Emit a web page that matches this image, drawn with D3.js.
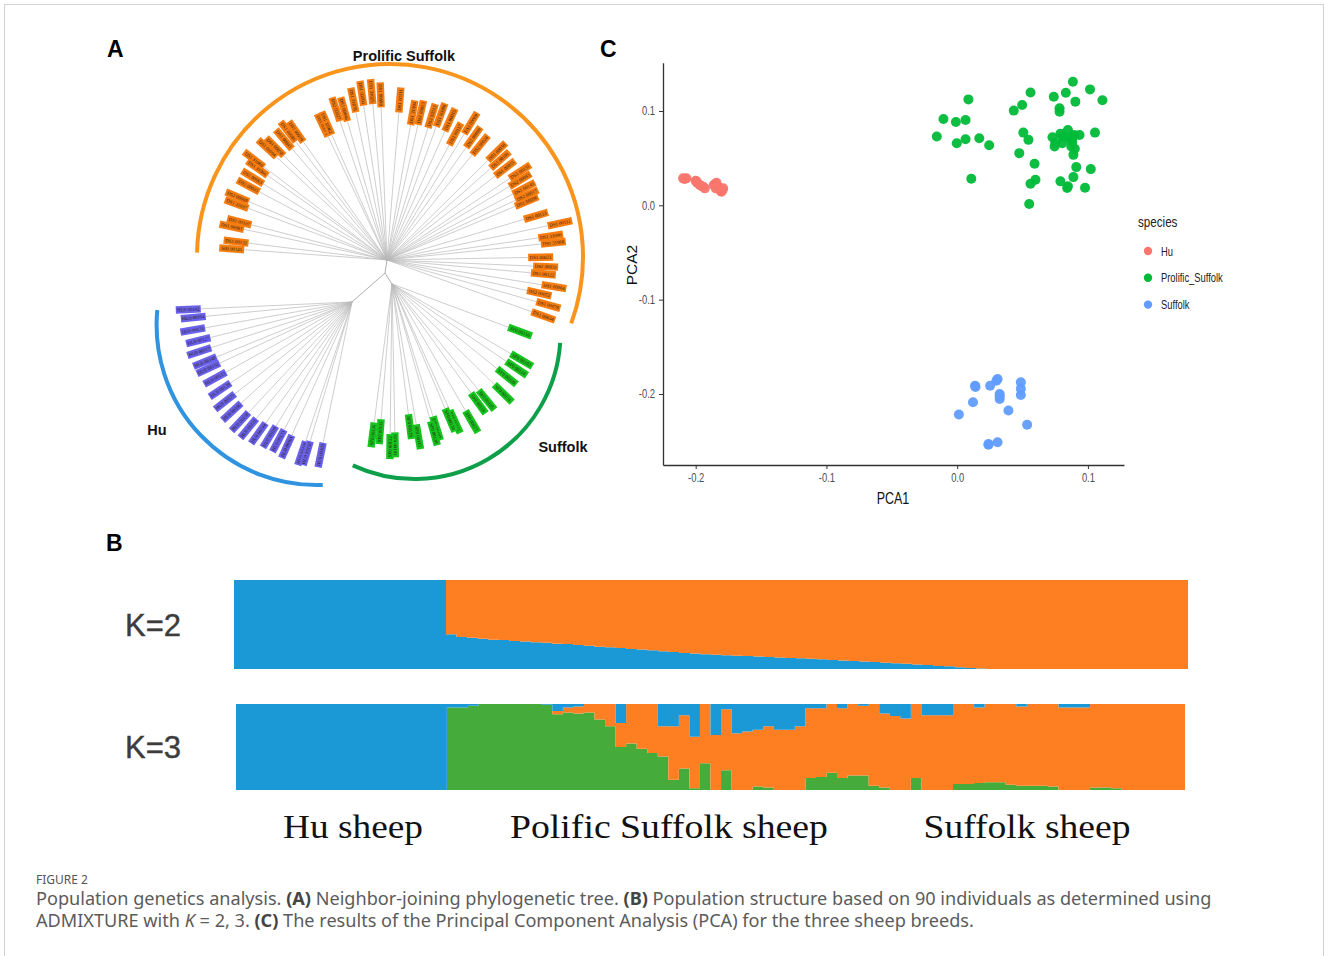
<!DOCTYPE html>
<html>
<head>
<meta charset="utf-8">
<script src="https://cdn.jsdelivr.net/npm/d3@7"></script>
<style>
  body { margin: 0; background: #fff; }
</style>
</head>
<body>
<div id="fig"></div>
<script>
// ---------- panel A : neighbor-joining tree (leaf direction in degrees, distance of label centre from clade node) ----------
const huIds = ["HU0 00142","HU0 00164","HU0 00131","HU0 00127","HU0 00117","HU0 00148","HU0 00152","HU0 00113","HU0 00139","HU0 00125",
  "HU0 00106","HU0 00158","HU0 00121","HU0 00144","HU0 00109","HU0 00133","HU0 00161","HU0 00118","HU0 00150","HU0 00103"];
const huAngles = [177.4,174.4,170,165.9,162,157.9,155.2,150.9,146.3,141.9,137.6,133.1,129.4,125.5,121.5,118,114.3,108.4,106.7,101.6];
const huDists = [163.9,159.5,161.7,158.5,160.6,158.7,158.3,156.8,158.6,161.5,162.8,163.9,163.4,161.3,158.1,157.1,158.7,159.4,157.9,156.2];

const psIds = ["S00 00145","DS1 00132","DS1 00081","DS1 00107","DS1 31037","DS2 00009","DS2 00035","DS1 00063","DS1 31066","DS1 31060",
  "DS1 00094","DS1 00058","DS1 00041","DS1 00086","DS1 00019","DS1 00071","DS1 31062","DS2 00027","DS1 00046","DS1 31078",
  "DS1 00090","DS1 31025","DS1 00098","DS1 00111","DS1 31094","DS1 00053","DS2 00013","DS1 00088","DS1 00015","DS1 00117",
  "DS1 00069","DS1 00080","DS2 00024","DS1 00038","DS1 00101","DS1 00055","DS1 00131","DS2 00043","DS1 00143","DS2 00017",
  "DS1 00096","DS1 00113","DS1 00112","DS1 31090","DS1 31068","DS1 00021","DS2 00033","DS1 00122","DS1 00064","DS2 00052",
  "DS1 00078","DS1 00034"];
const psAngles = [184.1,186.9,192.1,194.5,200.4,202.9,208.1,211.6,215.3,217.1,223,225.3,229.5,232.4,234.7,244.5,246.2,251.3,254.1,258.1,
  261.4,264.8,267.8,274.6,279.9,282.9,287.2,290.3,294.2,298.4,301.5,305.1,309,315.4,318.5,322.2,326.4,329,332.4,335.1,
  337.3,343.5,348,351.7,354.1,359,362.4,365.1,369.1,372.3,375.6,379.7];
const psDists = [155.7,152,158.8,152.6,160.4,162.5,157.2,157.7,158.8,166.8,163.7,159.3,158.7,161.9,157.3,149.5,149.4,159.1,156.7,163.5,
  168.6,169,165.1,160.5,149.5,151.1,150.8,154.6,153.5,143.2,160.3,150,147.9,154.2,150.9,149.4,159.6,155.2,154.6,154.1,
  151.4,155.4,176.8,165.4,167.2,153.7,158.8,157,169.1,155.8,167.5,166];

const sfIds = ["SF0 00116","SF0 00102","SF0 00124","SF0 00109","SF0 00131","SF0 00105","SF0 00118","SF0 00127","SF0 00111",
  "SF0 00134","SF0 00107","SF0 00120","SF0 00113","SF0 00129","SF0 00101","SF0 00122","SF0 00115","SF0 00126"];
const sfAngles = [20.4,30.4,34.1,38.9,44.5,50.8,54.1,59.9,65.4,66.9,72.8,74.3,80.2,82.8,88.9,90.7,94.6,97.3];
const sfDists = [136.6,150.3,150.5,147.5,156,149.7,147.2,159.1,151.4,147.9,151.1,155.1,155,143.8,161,162.7,148.2,152.2];

// internal branches from the root to each clade node: [length, direction]
const huStem = [43.9, 138.7];
const psStem = [13.2, 278.7];
const sfStem = [13.0, 57.5];

// ---------- panel B : ADMIXTURE ancestry fractions, 90 individuals ----------
const k2Blue = [1,1,1,1,1,1,1,1,1,1,1,1,1,1,1,1,1,1,1,1,
  0.39,0.36,0.35,0.34,0.33,0.325,0.315,0.31,0.30,0.295,0.285,0.28,0.27,0.26,0.25,0.245,0.235,0.225,0.22,0.21,
  0.20,0.19,0.18,0.175,0.165,0.16,0.155,0.15,0.145,0.14,0.135,0.13,0.125,0.12,0.115,0.11,0.10,0.095,0.09,0.085,
  0.08,0.07,0.065,0.06,0.05,0.045,0.035,0.03,0.02,0.01,0.005,
  0,0,0,0,0,0,0,0,0,0,0,0,0,0,0,0,0,0,0];
const k3Blue = [1,1,1,1,1,1,1,1,1,1,1,1,1,1,1,1,1,1,1,1,
  0.04,0.04,0.02,0,0,0,0,0,0,0.01,0.08,0.04,0.03,0,0,0,0.22,0,0,0,
  0.26,0.26,0.13,0.38,0,0.36,0.06,0.34,0.32,0.30,0.26,0.30,0.30,0.26,0.05,0.05,0,0.05,0,0.02,
  0,0.11,0.14,0.17,0,0.13,0.13,0.13,0,0,0.04,0,0,0,0.03,0,0,0,0.04,0.04,
  0.04,0,0,0,0,0,0,0,0,0];
const k3Green = [0,0,0,0,0,0,0,0,0,0,0,0,0,0,0,0,0,0,0,0,
  0.96,0.96,0.98,1,1,1,1,1,1,0.99,0.88,0.90,0.89,0.90,0.82,0.74,0.50,0.54,0.48,0.43,
  0.39,0.12,0.25,0.02,0.31,0,0.23,0,0,0.04,0.03,0,0,0,0.14,0.15,0.20,0.14,0.17,0.17,
  0.05,0.03,0,0,0.14,0,0,0,0.07,0.07,0.08,0.09,0.09,0.06,0.05,0.05,0.05,0.04,0,0,
  0,0.03,0.03,0.02,0,0,0,0,0,0];
const groupNames = ["Hu sheep", "Polific Suffolk sheep", "Suffolk sheep"];
const kLabels = ["K=2", "K=3"];

// ---------- panel C : PCA ----------
const huPC1 = [-0.2096,-0.2071,-0.2,-0.1989,-0.1969,-0.1943,-0.193,-0.1862,-0.1841,-0.1829,-0.1816,-0.1803,-0.179,-0.1846,
  -0.2085,-0.1995,-0.1955,-0.185,-0.181,-0.1795];
const huPC2 = [0.0286,0.0286,0.0261,0.024,0.0215,0.0197,0.018,0.0215,0.024,0.0197,0.017,0.0144,0.018,0.018,
  0.028,0.0255,0.0205,0.0225,0.0155,0.016];
const psPC1 = [-0.0156,-0.0105,-0.001,0.0064,0.0086,-0.0003,0.0064,0.0169,0.0245,0.0108,0.0433,0.0497,0.0561,0.0506,0.0545,
  0.0475,0.0592,0.0599,0.0561,0.0551,0.0739,0.0783,0.0783,0.0831,0.0885,0.0904,0.1016,0.1111,0.0729,0.0745,0.0803,0.0803,
  0.0847,0.0873,0.0889,0.0895,0.0936,0.0873,0.0889,0.0911,0.1022,0.1054,0.079,0.0847,0.0841,0.0889,0.0978,
  0.086,0.088,0.079,0.075,0.09];
const psPC2 = [0.0729,0.0915,0.0884,0.0905,0.1123,0.0658,0.0701,0.0711,0.0637,0.0282,0.1004,0.1063,0.1197,0.0771,0.0694,
  0.0553,0.044,0.0271,0.0229,0.0014,0.1151,0.1028,0.0993,0.1194,0.131,0.1099,0.1229,0.1113,0.0722,0.0623,0.0729,0.0658,
  0.0799,0.0694,0.0729,0.0746,0.0746,0.0623,0.0535,0.0405,0.0384,0.0771,0.0254,0.0201,0.0183,0.0299,0.0187,
  0.072,0.067,0.076,0.066,0.06];
const sfPC1 = [0.0137,0.0252,0.0309,0.0325,0.0325,0.0487,0.0487,0.0121,0.0013,0.0392,0.0535,0.0239,0.0309,
  0.0325,0.0487,0.03,0.024,0.014];
const sfPC2 = [-0.1912,-0.1912,-0.1842,-0.2,-0.2053,-0.1877,-0.2011,-0.2088,-0.2218,-0.2176,-0.2327,-0.2539,-0.2511,
  -0.2025,-0.1945,-0.186,-0.253,-0.1925];
const speciesNames = ["Hu", "Prolific_Suffolk", "Suffolk"];
const pcaXTicks = [-0.2, -0.1, 0.0, 0.1];
const pcaYTicks = [-0.2, -0.1, 0.0, 0.1];

// ---------- drawing ----------
const W = 1328, H = 956;
const sans = "Liberation Sans, Arial, sans-serif";
const serif = "Liberation Serif, Times New Roman, serif";

const svg = d3.select("#fig").append("svg").attr("width", W).attr("height", H)
  .attr("font-family", sans);
svg.append("rect").attr("width", W).attr("height", H).attr("fill", "#fff");
svg.append("rect").attr("x", 4.5).attr("y", 4.5).attr("width", W - 9).attr("height", H + 20)
  .attr("fill", "none").attr("stroke", "#d2d2d2").attr("stroke-width", 1);

// the ggplot panel in the figure is squeezed sideways; mimic with a condensed text width
function condense(sel, f) {
  sel.each(function() {
    const n = this.getComputedTextLength();
    d3.select(this).attr("textLength", n * f).attr("lengthAdjust", "spacingAndGlyphs");
  });
}

function panelLetter(t, x, y) {
  svg.append("text").attr("x", x).attr("y", y).text(t)
    .attr("font-size", 23).attr("font-weight", "bold").attr("fill", "#000");
}
panelLetter("A", 107, 57);
panelLetter("C", 600, 57);
panelLetter("B", 106, 551);

// ---- tree ----
const rad = d => d * Math.PI / 180;
const tree = svg.append("g").attr("class", "tree");
const root = {x: 385, y: 273};
const clades = [
  {name: "Hu", ids: huIds, angles: huAngles, dists: huDists, stem: huStem,
   fill: "#6b62ea", arc: {cx: 316.6, cy: 325, r: 160, a0: 87.8, a1: 185.4, color: "#2f93e0"},
   label: {x: 157, y: 435}},
  {name: "Prolific Suffolk", ids: psIds, angles: psAngles, dists: psDists, stem: psStem,
   fill: "#f57d12", arc: {cx: 390, cy: 257, r: 193, a0: 181.3, a1: 380.1, color: "#f9951c"},
   label: {x: 404, y: 61}},
  {name: "Suffolk", ids: sfIds, angles: sfAngles, dists: sfDists, stem: sfStem,
   fill: "#16c41e", arc: {cx: 414.5, cy: 333, r: 146, a0: 3.9, a1: 115, color: "#0e9f4a"},
   label: {x: 563, y: 452}}
];

const halfLen = 12.5;
clades.forEach(c => {
  const node = {x: root.x + c.stem[0] * Math.cos(rad(c.stem[1])), y: root.y + c.stem[0] * Math.sin(rad(c.stem[1]))};
  tree.append("line").attr("x1", root.x).attr("y1", root.y).attr("x2", node.x).attr("y2", node.y)
    .attr("stroke", "#9a9a9a").attr("stroke-width", 0.8);

  const leaves = c.ids.map((id, i) => {
    const a = c.angles[i], d = c.dists[i];
    return {id, a, d,
      cx: node.x + d * Math.cos(rad(a)), cy: node.y + d * Math.sin(rad(a)),
      ex: node.x + (d - halfLen) * Math.cos(rad(a)), ey: node.y + (d - halfLen) * Math.sin(rad(a))};
  });

  tree.append("g").selectAll("line").data(leaves).join("line")
    .attr("x1", node.x).attr("y1", node.y).attr("x2", d => d.ex).attr("y2", d => d.ey)
    .attr("stroke", "#b9b9b9").attr("stroke-width", 0.7);

  const lab = tree.append("g").selectAll("g").data(leaves).join("g")
    .attr("transform", d => {
      const r = Math.cos(rad(d.a)) < 0 ? d.a + 180 : d.a;
      return `translate(${d.cx},${d.cy}) rotate(${r})`;
    });
  lab.append("rect").attr("x", -halfLen).attr("y", -3.7).attr("width", halfLen * 2).attr("height", 7.4)
    .attr("fill", c.fill);
  lab.append("text").attr("text-anchor", "middle").attr("dy", 1.7)
    .attr("font-size", 4.8).attr("font-family", serif).attr("fill", "#2a1a10")
    .text(d => d.id);

  const p = d3.path();
  p.arc(c.arc.cx, c.arc.cy, c.arc.r, rad(c.arc.a0), rad(c.arc.a1));
  tree.append("path").attr("d", p.toString()).attr("fill", "none")
    .attr("stroke", c.arc.color).attr("stroke-width", 4);

  tree.append("text").attr("x", c.label.x).attr("y", c.label.y).attr("text-anchor", "middle")
    .attr("font-size", 14.5).attr("font-weight", "bold").attr("fill", "#111").text(c.name);
});

// ---- PCA ----
const pca = svg.append("g").attr("class", "pca");
const px = d3.scaleLinear().domain([-0.225, 0.1276]).range([663, 1124]);
const py = d3.scaleLinear().domain([-0.2753, 0.1512]).range([465, 62.7]);
const fmt = d => d.toFixed(1);

const xAxis = pca.append("g").attr("transform", "translate(0,465)")
  .call(d3.axisBottom(px).tickValues(pcaXTicks).tickFormat(fmt).tickSize(4).tickSizeOuter(0).tickPadding(4));
const yAxis = pca.append("g").attr("transform", "translate(663,0)")
  .call(d3.axisLeft(py).tickValues(pcaYTicks).tickFormat(fmt).tickSize(4).tickSizeOuter(0).tickPadding(4));
[xAxis, yAxis].forEach(g => {
  g.attr("font-family", sans);
  g.select(".domain").attr("stroke", "#333").attr("stroke-width", 1.3);
  g.selectAll(".tick line").attr("stroke", "#333");
  g.selectAll(".tick text").attr("fill", "#4d4d4d").attr("font-size", 12.5);
  condense(g.selectAll(".tick text"), 0.75);
});

const pca1 = pca.append("text").attr("x", 893).attr("y", 504).attr("text-anchor", "middle")
  .attr("font-size", 16).attr("fill", "#111").text("PCA1");
condense(pca1, 0.78);
pca.append("text").attr("transform", "translate(637,265) rotate(-90)").attr("text-anchor", "middle")
  .attr("font-size", 15.5).attr("fill", "#111").text("PCA2");

const speciesColors = ["#f8766d", "#00ba38", "#619cff"];
const pts = [
  ...huPC1.map((v, i) => ({pc1: v, pc2: huPC2[i], s: 0})),
  ...psPC1.map((v, i) => ({pc1: v, pc2: psPC2[i], s: 1})),
  ...sfPC1.map((v, i) => ({pc1: v, pc2: sfPC2[i], s: 2}))
];
pca.append("g").selectAll("circle").data(pts).join("circle")
  .attr("cx", d => px(d.pc1)).attr("cy", d => py(d.pc2)).attr("r", 5)
  .attr("fill", d => speciesColors[d.s]).attr("fill-opacity", 0.95);

const leg = pca.append("g").attr("transform", "translate(1138,0)");
const legTitle = leg.append("text").attr("x", 0).attr("y", 227).attr("font-size", 15.5).attr("fill", "#222").text("species");
condense(legTitle, 0.75);
const legItems = leg.selectAll("g.item").data(speciesNames).join("g").attr("class", "item")
  .attr("transform", (d, i) => `translate(0,${251 + i * 26.8})`);
legItems.append("circle").attr("cx", 10).attr("cy", 0).attr("r", 4.2).attr("fill", (d, i) => speciesColors[i]);
const legText = legItems.append("text").attr("x", 23).attr("y", 4.5).attr("font-size", 13).attr("fill", "#222").text(d => d);
condense(legText, 0.72);

// ---- ADMIXTURE ----
const adm = svg.append("g").attr("class", "admixture");
const admColors = {blue: "#1a99d6", orange: "#fe7f22", green: "#45ab3a"};
const idx = d3.range(k2Blue.length);

function drawBar(rows, keys, x0, x1, top, bottom) {
  const bx = d3.scaleBand().domain(d3.range(rows.length + 1)).range([x0, x1 + (x1 - x0) / rows.length]);
  const by = d3.scaleLinear().domain([0, 1]).range([bottom, top]);
  const series = d3.stack().keys(keys)(rows);
  const area = d3.area().curve(d3.curveStepAfter)
    .x((d, i) => bx(i)).y0(d => by(d[0])).y1(d => by(d[1]));
  series.forEach(s => {
    const pts = [...s, s[s.length - 1]];
    adm.append("path").attr("d", area(pts)).attr("fill", admColors[s.key]);
  });
}
const k2Rows = idx.map(i => ({blue: k2Blue[i], orange: 1 - k2Blue[i]}));
const k3Rows = idx.map(i => ({green: k3Green[i], orange: Math.max(0, 1 - k3Blue[i] - k3Green[i]), blue: k3Blue[i]}));
drawBar(k2Rows, ["blue", "orange"], 234, 1188, 580, 669);
drawBar(k3Rows, ["green", "orange", "blue"], 236, 1185, 704, 790);

adm.selectAll("text.k").data(kLabels).join("text").attr("class", "k")
  .attr("x", 125).attr("y", (d, i) => [636, 758][i]).attr("font-size", 31).attr("fill", "#3c3c3c")
  .attr("stroke", "#3c3c3c").attr("stroke-width", 0.4).text(d => d);

const groupCenters = [353, 669, 1027];
const groupWidths = [140, 318, 207];
adm.selectAll("text.grp").data(groupNames).join("text").attr("class", "grp")
  .attr("x", (d, i) => groupCenters[i] - groupWidths[i] / 2).attr("y", 838)
  .attr("textLength", (d, i) => groupWidths[i]).attr("lengthAdjust", "spacingAndGlyphs")
  .attr("font-size", 33).attr("font-family", serif).attr("fill", "#111")
  .text(d => d);

// ---- caption ----
const cap = svg.append("g").attr("font-family", "Noto Sans, Open Sans, sans-serif").attr("fill", "#5b5b5b");
cap.append("text").attr("x", 36).attr("y", 883.5).attr("font-size", 12).attr("fill", "#555").text("FIGURE 2");
const line1 = [["Population genetics analysis. ", ""], ["(A)", "b"], [" Neighbor-joining phylogenetic tree. ", ""], ["(B)", "b"],
  [" Population structure based on 90 individuals as determined using", ""]];
const line2 = [["ADMIXTURE with ", ""], ["K", "i"], [" = 2, 3. ", ""], ["(C)", "b"],
  [" The results of the Principal Component Analysis (PCA) for the three sheep breeds.", ""]];
function capLine(parts, y) {
  const t = cap.append("text").attr("x", 36).attr("y", y).attr("font-size", 16.5);
  parts.forEach(([s, st]) => {
    const sp = t.append("tspan").text(s);
    if (st === "b") sp.attr("font-weight", "bold").attr("fill", "#444");
    if (st === "i") sp.attr("font-style", "italic");
  });
  return t;
}
const l1 = capLine(line1, 905);
const l2 = capLine(line2, 927);
const natural = l1.node().getComputedTextLength();
const fs = 16.5 * 1176 / natural;
l1.attr("font-size", fs);
l2.attr("font-size", fs);
</script>
</body>
</html>
